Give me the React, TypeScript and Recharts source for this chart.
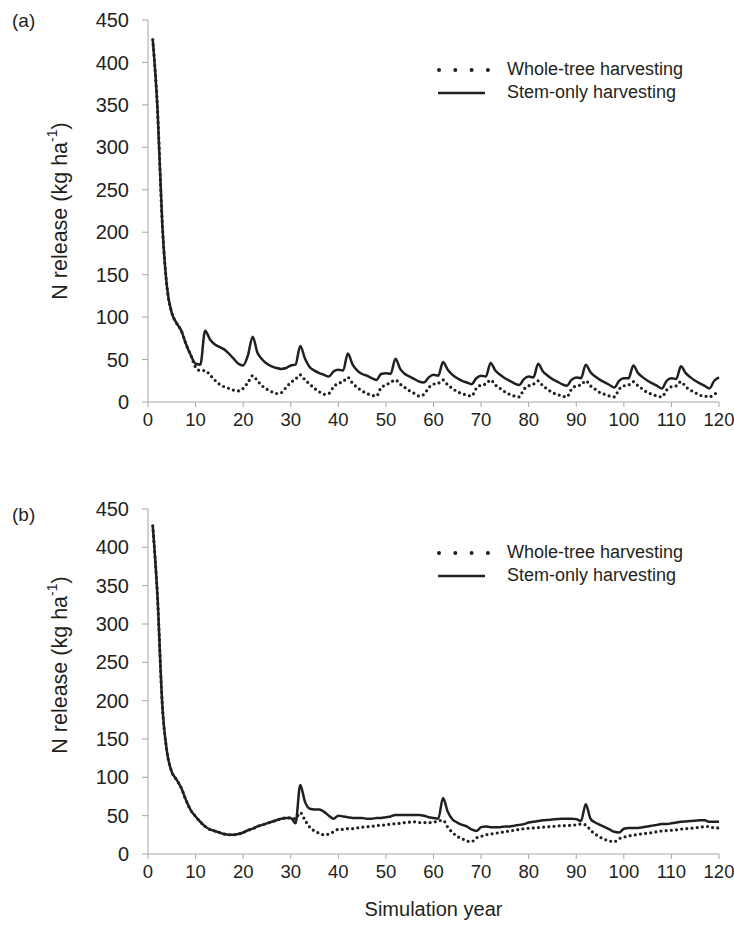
import { LineChart, Line, XAxis, YAxis } from "recharts";

const years = Array.from({ length: 120 }, (_, i) => i + 1);
const xTicks = [0, 10, 20, 30, 40, 50, 60, 70, 80, 90, 100, 110, 120];
const yTicks = [0, 50, 100, 150, 200, 250, 300, 350, 400, 450];

// panel (a)
const stemA = [
  427, 345, 210, 135, 105, 93, 84, 68, 55, 45,
  44, 84, 74, 68, 65, 62, 57, 51, 45, 43,
  55, 77, 58, 50, 45, 42, 40, 39, 40, 43,
  44, 66, 51, 41, 37, 34, 32, 30, 36, 38,
  37, 57, 44, 37, 33, 31, 28, 26, 33, 34,
  33, 51, 39, 33, 30, 27, 24, 23, 29, 32,
  31, 47, 38, 32, 28, 25, 23, 21, 28, 31,
  30, 46, 37, 32, 28, 25, 22, 20, 27, 30,
  29, 45, 36, 31, 27, 24, 21, 19, 26, 29,
  28, 44, 35, 30, 26, 23, 20, 17, 25, 28,
  28, 43, 34, 29, 25, 22, 19, 16, 25, 28,
  27, 42, 34, 29, 25, 22, 19, 16, 25, 29,
];
const wholeA = [
  427, 345, 210, 135, 105, 93, 84, 68, 55, 41,
  37, 37, 32, 26, 21, 18, 16, 14, 13, 16,
  23, 31, 25, 19, 15, 12, 10, 11, 17, 23,
  27, 32, 26, 21, 16, 12, 9, 10, 18, 22,
  24, 29, 22, 17, 13, 10, 8, 7, 17, 20,
  23, 26, 21, 17, 13, 10, 7, 9, 17, 21,
  22, 26, 20, 16, 12, 10, 8, 7, 16, 20,
  21, 26, 20, 16, 12, 9, 7, 6, 15, 19,
  21, 25, 19, 15, 11, 9, 7, 6, 15, 19,
  20, 25, 19, 15, 11, 9, 7, 6, 15, 19,
  20, 24, 19, 15, 11, 9, 7, 6, 14, 18,
  19, 24, 18, 14, 11, 8, 7, 6, 9, 13,
];

// panel (b)
const stemB = [
  428, 335, 195, 133, 107, 97, 86, 70, 57, 49,
  42, 36, 32, 30, 28, 26, 25, 25, 26, 28,
  31, 33, 36, 38, 40, 42, 44, 46, 47, 47,
  40, 90, 68, 59, 58, 58, 55, 50, 46, 50,
  49, 48, 47, 47, 47, 46, 46, 47, 47, 48,
  49, 51, 51, 51, 51, 51, 51, 50, 48, 47,
  46, 73, 55, 45, 41, 38, 36, 32, 30, 35,
  36, 35, 35, 35, 36, 36, 37, 38, 39, 41,
  42, 43, 44, 44.5, 45, 45.5, 46, 46, 46, 45.5,
  43, 65, 46, 41, 38, 35, 32, 29, 28, 33,
  34, 34, 34, 35, 36, 37, 38, 39, 39, 40,
  41, 42, 42.5, 43, 43.5, 44, 44, 42, 42, 42,
];
const wholeB = [
  428, 335, 195, 133, 107, 97, 86, 70, 57, 49,
  42, 36, 32, 30, 28, 26, 25, 25, 26, 28,
  31, 33, 36, 38, 40, 42, 44, 46, 47, 47,
  46, 54, 44, 35, 30, 27, 25, 26, 29, 32,
  32, 33, 33, 34, 35, 35.5, 36, 37, 37.5, 38,
  39, 39.5, 40, 41, 41.5, 42, 41, 41, 41, 41.5,
  43, 44, 35, 28, 23, 20, 17, 16, 21, 23,
  25, 26, 27, 28, 29, 30, 31, 32, 33, 33.5,
  34, 34.5, 35, 35.5, 36, 36.5, 37, 37, 37.5, 38,
  39, 38, 31, 26, 22, 19, 17, 16, 20, 22,
  23.5, 24.5, 25.5, 26.5, 27, 28, 29, 30, 30.5, 31,
  31.5, 32.5, 33, 33.5, 34, 35, 35.5, 36, 34, 34,
];

const dataA = years.map((y, i) => ({ year: y, stem: stemA[i], whole: wholeA[i] }));
const dataB = years.map((y, i) => ({ year: y, stem: stemB[i], whole: wholeB[i] }));

const FONT = "'Liberation Sans', Arial, sans-serif";
const INK = "#231f20";
const AXIS = "#a6a6a6";

const YLabel = ({ cy }: { cy: number }) => (
  <text
    x={60}
    y={cy}
    transform={`rotate(-90, 60, ${cy})`}
    textAnchor="middle"
    dominantBaseline="central"
    fill={INK}
    fontSize={21.5}
    fontFamily={FONT}
  >
    N release (kg ha
    <tspan dy={-8} fontSize={14}>-1</tspan>
    <tspan dy={8}>)</tspan>
  </text>
);

const LegendBox = ({ top }: { top: number }) => (
  <div style={{ position: "absolute", left: 436, top, fontFamily: FONT, fontSize: 18, color: INK }}>
    <div style={{ display: "flex", alignItems: "center", height: 23 }}>
      <svg width={56} height={10}>
        <line x1={3} y1={5} x2={53} y2={5} stroke={INK} strokeWidth={4} strokeLinecap="round" strokeDasharray="0 16.3" />
      </svg>
      <span style={{ marginLeft: 15 }}>Whole-tree harvesting</span>
    </div>
    <div style={{ display: "flex", alignItems: "center", height: 23 }}>
      <svg width={56} height={10}>
        <line x1={2} y1={5} x2={49} y2={5} stroke={INK} strokeWidth={2.5} />
      </svg>
      <span style={{ marginLeft: 15 }}>Stem-only harvesting</span>
    </div>
  </div>
);

const Panel = ({ data, height, margin, labelY }: any) => (
  <LineChart width={734} height={height} data={data} margin={margin}>
    <XAxis
      dataKey="year"
      type="number"
      domain={[0, 120]}
      ticks={xTicks}
      interval={0}
      axisLine={{ stroke: AXIS }}
      tickLine={{ stroke: AXIS }}
      tickSize={5}
      tickMargin={6}
      tick={{ fill: INK, fontSize: 18.5, fontFamily: FONT }}
      height={30}
    />
    <YAxis
      type="number"
      domain={[0, 450]}
      ticks={yTicks}
      interval={0}
      axisLine={{ stroke: AXIS }}
      tickLine={{ stroke: AXIS }}
      tickSize={6}
      tickMargin={13}
      tick={{ fill: INK, fontSize: 20, fontFamily: FONT }}
      width={60}
      label={{ content: () => <YLabel cy={labelY} /> }}
    />
    <Line
      type="monotone"
      dataKey="stem"
      stroke={INK}
      strokeWidth={2.5}
      dot={false}
      isAnimationActive={false}
    />
    <Line
      type="monotone"
      dataKey="whole"
      stroke={INK}
      strokeWidth={3.2}
      strokeLinecap="round"
      strokeDasharray="0 5.2"
      dot={false}
      isAnimationActive={false}
    />
  </LineChart>
);

export default function App() {
  return (
    <div style={{ position: "absolute", left: 0, top: 0, width: 734, height: 934, background: "#fff", fontFamily: FONT }}>
      <Panel data={dataA} height={440} margin={{ top: 20, right: 15, bottom: 8, left: 88 }} labelY={211} />
      <div style={{ position: "absolute", left: 0, top: 440 }}>
        <Panel data={dataB} height={494} margin={{ top: 69, right: 15, bottom: 50, left: 88 }} labelY={225} />
      </div>
      <div style={{ position: "absolute", left: 12, top: 10, fontSize: 19, color: INK }}>(a)</div>
      <div style={{ position: "absolute", left: 12, top: 504, fontSize: 19, color: INK }}>(b)</div>
      <LegendBox top={58} />
      <LegendBox top={541} />
      <div style={{ position: "absolute", left: 0, width: 867, top: 898, textAlign: "center", fontSize: 20, color: INK }}>
        Simulation year
      </div>
    </div>
  );
}
